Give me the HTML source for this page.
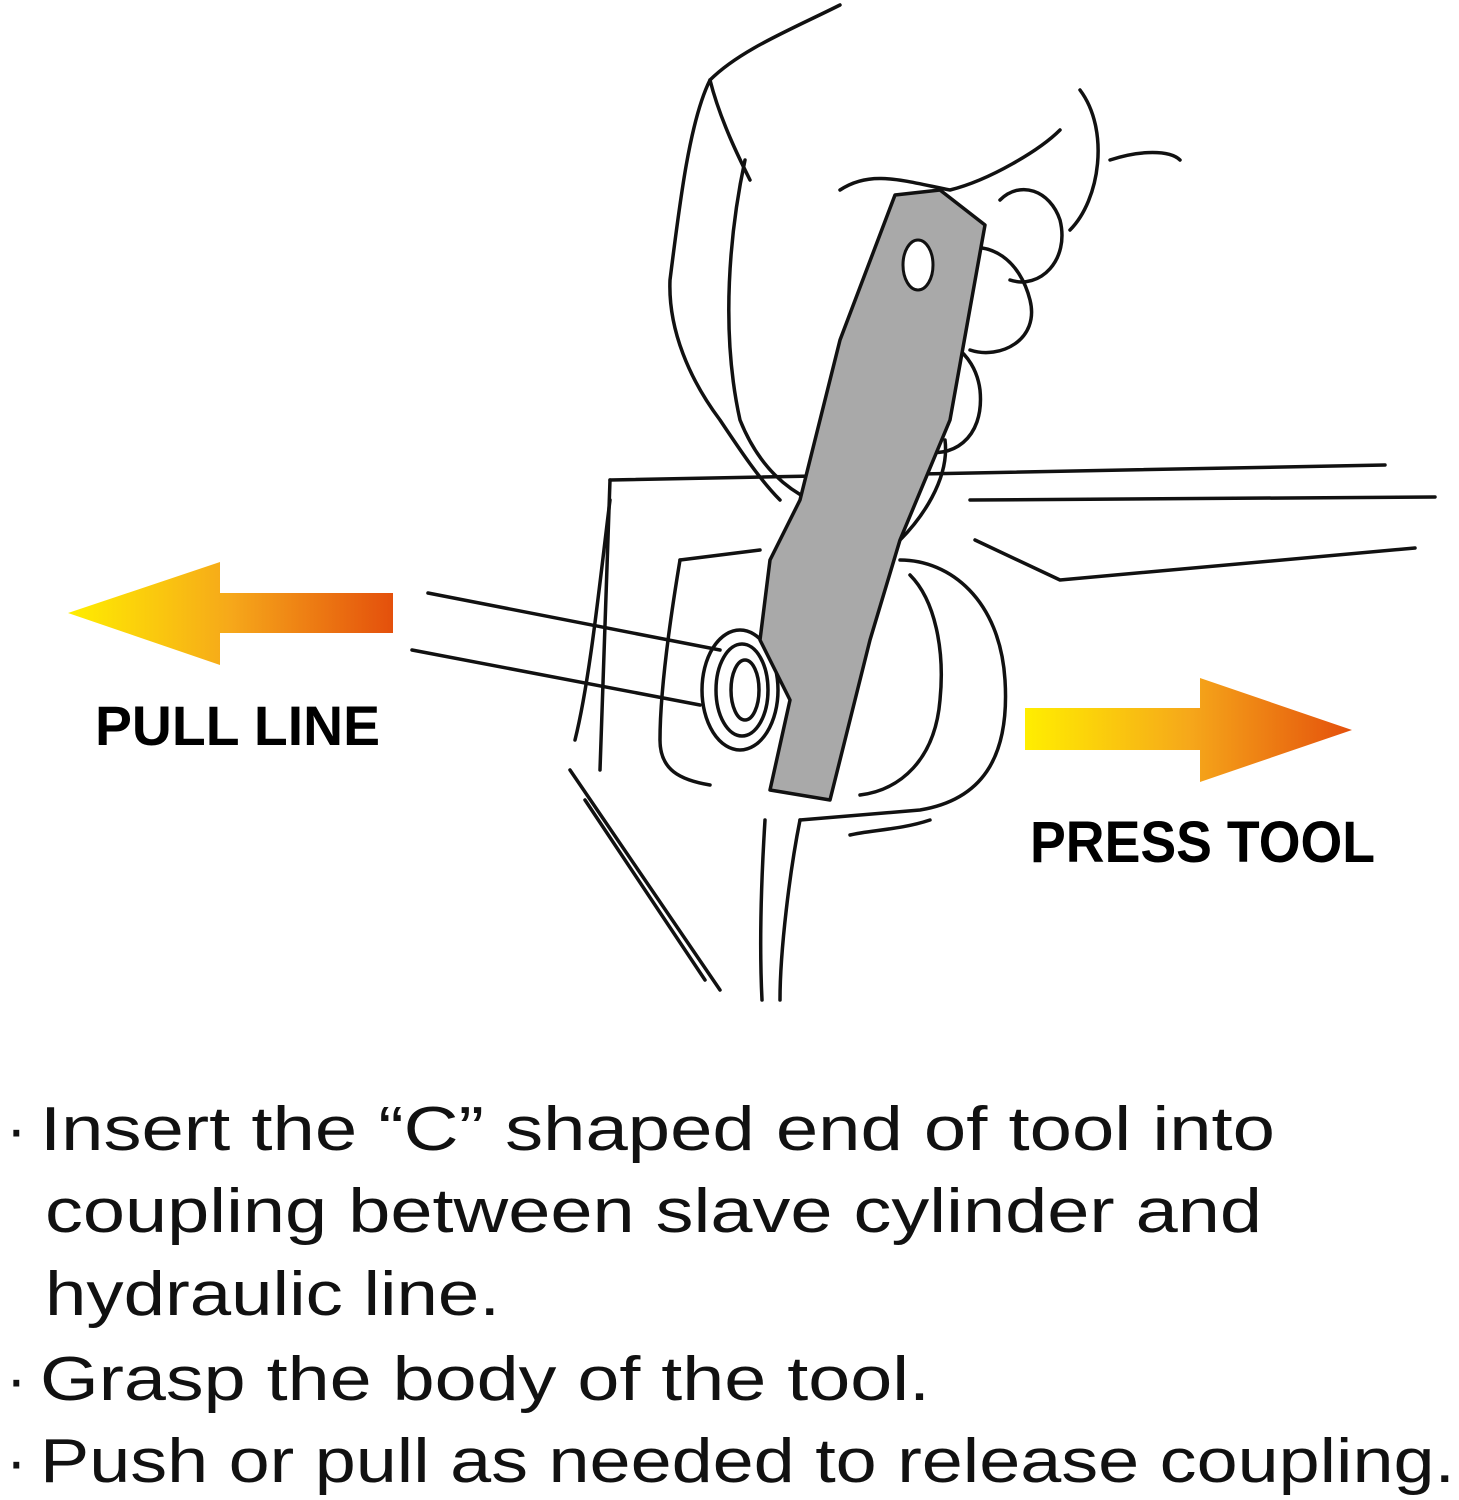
<!DOCTYPE html>
<html><head><meta charset="utf-8"><style>
html,body{margin:0;padding:0;background:#fff;}
svg{display:block;}
</style></head><body>
<svg width="1459" height="1500" viewBox="0 0 1459 1500" xmlns="http://www.w3.org/2000/svg">
<defs>
<linearGradient id="gl" x1="0" x2="1" y1="0" y2="0"><stop offset="0" stop-color="#ffee00"/><stop offset="0.5" stop-color="#f6a81a"/><stop offset="1" stop-color="#e4500c"/></linearGradient>
<linearGradient id="gr" x1="0" x2="1" y1="0" y2="0"><stop offset="0" stop-color="#ffee00"/><stop offset="0.5" stop-color="#f6a81a"/><stop offset="1" stop-color="#e4500c"/></linearGradient>
</defs>
<!-- arrows -->
<polygon points="68,613 220,562 220,593 393,593 393,633 220,633 220,665" fill="url(#gl)"/>
<polygon points="1025,708 1200,708 1200,678 1352,730 1200,782 1200,750 1025,750" fill="url(#gr)"/>
<text x="95" y="745" font-family="Liberation Sans, sans-serif" font-weight="bold" font-size="56" textLength="285" lengthAdjust="spacingAndGlyphs">PULL LINE</text>
<text x="1030" y="862" font-family="Liberation Sans, sans-serif" font-weight="bold" font-size="58" textLength="345" lengthAdjust="spacingAndGlyphs">PRESS TOOL</text>
<!-- sketch -->
<g fill="none" stroke="#111" stroke-width="3.5" stroke-linecap="round" stroke-linejoin="round">
<path d="M840,5 C790,30 740,50 710,80 C690,120 680,200 670,280 C668,330 690,380 720,420 C740,450 760,480 780,500"/>
<path d="M710,80 C720,120 740,160 750,180"/>
<path d="M745,160 C730,230 720,330 740,420 C760,470 790,490 810,500"/>
<path d="M840,190 C870,170 900,180 950,190 C990,180 1040,150 1060,130"/>
<path d="M1080,90 C1110,130 1100,200 1070,230"/>
<path d="M1110,160 C1140,150 1170,150 1180,160"/>
<path d="M1000,200 C1020,180 1050,190 1060,220 C1070,260 1040,290 1010,280"/>
<path d="M960,250 C990,240 1020,260 1030,300 C1040,340 1000,360 970,350"/>
<path d="M910,340 C940,330 975,350 980,390 C985,440 950,460 920,450"/>
<path d="M945,440 C950,480 920,520 900,540"/>
<path d="M610,480 L1385,465"/>
<path d="M610,480 L600,770"/>
<path d="M970,500 L1435,497"/>
<path d="M975,540 L1060,580 L1415,548"/>
<path d="M610,500 C600,580 590,680 575,740"/>
<path d="M570,770 L720,990"/>
<path d="M585,800 L705,980"/>
<path d="M680,560 L760,550"/>
<path d="M680,560 C670,620 660,690 660,740 C660,770 680,780 710,785"/>
<path d="M428,593 L720,650"/>
<path d="M412,650 L700,705"/>
<path d="M900,560 C950,560 1000,600 1005,680 C1010,760 980,800 920,810 L800,820"/>
<path d="M910,575 C935,600 945,650 940,700 C935,760 900,790 860,795"/>
<path d="M800,820 C790,870 780,950 780,1000"/>
<path d="M765,820 C760,900 760,960 762,1000"/>
<path d="M930,820 C900,830 870,830 850,835"/>
<ellipse cx="740" cy="690" rx="38" ry="60"/>
<ellipse cx="742" cy="690" rx="26" ry="46"/>
<ellipse cx="745" cy="690" rx="14" ry="30"/>
</g>
<!-- tool -->
<path d="M895,195 L940,190 L985,225 L950,420 L900,540 L870,640 L830,800 L770,790 L790,700 L760,640 L770,560 L800,500 L840,340 Z" fill="#a9a9a9" stroke="#111" stroke-width="3.5" stroke-linejoin="round"/>
<ellipse cx="918" cy="265" rx="15" ry="25" fill="#fff" stroke="#111" stroke-width="3"/>
<!-- text -->
<g font-family="Liberation Sans, sans-serif" font-size="62" fill="#111">
<text x="6" y="1150">·</text>
<text x="40" y="1150" textLength="1235" lengthAdjust="spacingAndGlyphs">Insert the “C” shaped end of tool into</text>
<text x="45" y="1232" textLength="1217" lengthAdjust="spacingAndGlyphs">coupling between slave cylinder and</text>
<text x="45" y="1315" textLength="455" lengthAdjust="spacingAndGlyphs">hydraulic line.</text>
<text x="6" y="1400">·</text>
<text x="40" y="1400" textLength="890" lengthAdjust="spacingAndGlyphs">Grasp the body of the tool.</text>
<text x="6" y="1482">·</text>
<text x="40" y="1482" textLength="1415" lengthAdjust="spacingAndGlyphs">Push or pull as needed to release coupling.</text>
</g>
</svg>
</body></html>
